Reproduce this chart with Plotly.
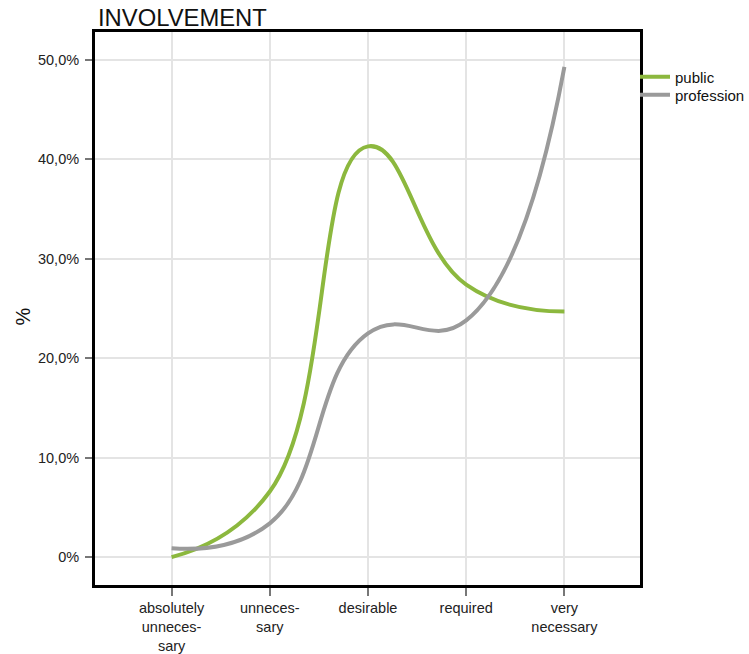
import plotly.graph_objects as go

categories = ["absolutely<br>unneces-<br>sary", "unneces-<br>sary", "desirable", "required", "very<br>necessary"]
public = [0.0, 6.6, 41.3, 27.4, 24.7]
profession = [0.9, 3.4, 22.5, 23.8, 49.3]
ytick_vals = [0, 10, 20, 30, 40, 50]
ytick_text = ["0%", "10,0%", "20,0%", "30,0%", "40,0%", "50,0%"]

xidx = list(range(len(categories)))

W, H = 749, 654
L, T = 95, 32
R = W - 640
B = H - 585

fig = go.Figure()
fig.add_trace(go.Scatter(x=xidx, y=public, mode="lines", name="public", legend="legend",
                         line=dict(color="#8cb83e", width=4, shape="spline", smoothing=1.3)))
fig.add_trace(go.Scatter(x=xidx, y=profession, mode="lines", name="profession", legend="legend2",
                         line=dict(color="#9a9a9a", width=4, shape="spline", smoothing=1.3)))

leg_common = dict(xref="container", yref="container", xanchor="left", yanchor="middle",
                  font=dict(size=15, color="#111"), bgcolor="rgba(0,0,0,0)", itemwidth=30,
                  borderwidth=0)

fig.update_layout(
    width=W, height=H,
    margin=dict(l=L, r=R, t=T, b=B, autoexpand=False),
    plot_bgcolor="white", paper_bgcolor="white",
    font=dict(family="Liberation Sans, Arial, sans-serif", size=14, color="#222"),
    showlegend=True,
    legend=dict(x=635 / W, y=1 - 77 / H, **leg_common),
    legend2=dict(x=635 / W, y=1 - 95 / H, **leg_common),
    xaxis=dict(range=[-0.78, 4.77], tickmode="array", tickvals=xidx, ticktext=categories,
               showgrid=True, gridcolor="#e4e4e4", gridwidth=2, zeroline=False,
               showline=True, linecolor="black", linewidth=3, mirror=True, automargin=False,
               ticks="outside", ticklen=8, tickwidth=2, tickcolor="#777",
               tickfont=dict(size=14.5, color="#222")),
    yaxis=dict(range=[-2.8, 52.8], tickmode="array", tickvals=ytick_vals, ticktext=ytick_text,
               showgrid=True, gridcolor="#e4e4e4", gridwidth=2, zeroline=False,
               showline=True, linecolor="black", linewidth=3, mirror=True, automargin=False,
               ticks="outside", ticklen=7, tickwidth=2, tickcolor="#777", ticklabelstandoff=3,
               tickfont=dict(size=14.5, color="#222")),
    annotations=[
        dict(text="INVOLVEMENT", xref="paper", yref="paper", x=0, y=1, xanchor="left",
             yanchor="bottom", showarrow=False, xshift=1, yshift=-1,
             font=dict(size=23.8, color="#111")),
        dict(text="%", xref="paper", yref="paper", x=(22.5 - L) / (W - L - R),
             y=(585 - 317) / (585 - 32),
             xanchor="center", yanchor="middle", textangle=-90, showarrow=False,
             font=dict(size=20, color="#111")),
    ],
)

fig.write_html("out.html", config={"displayModeBar": False},
               post_script="document.body.style.margin='0';")
